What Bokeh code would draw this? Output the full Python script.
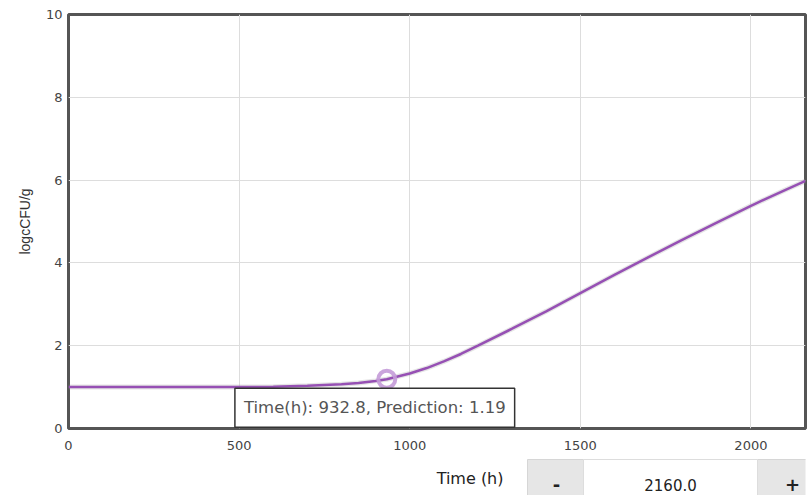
from bokeh.plotting import figure
from bokeh.layouts import column
from bokeh.models import Range1d, Label, FixedTicker, ColumnDataSource
from bokeh.core.properties import value
from bokeh.embed import file_html
from bokeh.resources import INLINE

# ---- data ----
time_h = [0, 100, 200, 300, 400, 500, 600, 650, 700, 750, 800, 850, 900, 932.8,
          1000, 1050, 1100, 1150, 1200, 1300, 1400, 1500, 1600, 1700, 1800,
          1900, 2000, 2100, 2160]
log_cfu = [1.0, 1.0, 1.0, 1.0, 1.0, 1.0, 1.01, 1.02, 1.03, 1.05, 1.07, 1.10, 1.15, 1.19,
           1.33, 1.46, 1.62, 1.80, 2.0, 2.41, 2.83, 3.27, 3.71, 4.14, 4.56,
           4.97, 5.38, 5.76, 5.98]
x_ticks = [0, 500, 1000, 1500, 2000]
y_ticks = [0, 2, 4, 6, 8, 10]
hover_time = 932.8
hover_pred = 1.19
x_axis_title = "Time (h)"
spinner_value = "2160.0"

FONT = "DejaVu Sans"

p = figure(width=807, height=455, output_backend="svg", toolbar_location=None,
           x_range=Range1d(0, 2160), y_range=Range1d(0, 10),
           min_border_left=68, min_border_right=2, min_border_top=14, min_border_bottom=27)
p.background_fill_color = "white"
p.border_fill_color = "white"
p.outline_line_color = "#555555"
p.outline_line_width = 3

p.xaxis.ticker = FixedTicker(ticks=x_ticks)
p.yaxis.ticker = FixedTicker(ticks=y_ticks)
for ax in (p.xaxis[0], p.yaxis[0]):
    ax.axis_line_color = None
    ax.major_tick_line_color = None
    ax.minor_tick_line_color = None
    ax.major_tick_out = 0
    ax.major_tick_in = 0
    ax.major_label_text_font = FONT
    ax.major_label_text_font_size = "13px"
    ax.major_label_text_color = "#444444"
p.xaxis.major_label_standoff = 12
p.yaxis.major_label_standoff = 6
p.yaxis.axis_label = "logcCFU/g"
p.yaxis.axis_label_text_font = "Liberation Sans"
p.yaxis.axis_label_text_font_style = "normal"
p.yaxis.axis_label_text_font_size = "14px"
p.yaxis.axis_label_text_color = "#333333"
p.yaxis.axis_label_standoff = 10

p.grid.grid_line_color = "#dddddd"
p.grid.grid_line_width = 1

src = ColumnDataSource(dict(t=time_h, y=log_cfu))
p.line("t", "y", source=src, line_color="#999999", line_alpha=0.25, line_width=5)
p.line("t", "y", source=src, line_color="#9650b4", line_width=2.5)

p.scatter([hover_time], [hover_pred], size=17, fill_color=None,
          line_color="#c49bd8", line_width=4, line_alpha=0.9)

tip = Label(x=hover_time, y=hover_pred, text=f"Time(h): {hover_time}, Prediction: {hover_pred}",
            anchor="top_center", x_offset=-12, y_offset=-9,
            text_font=FONT, text_font_size="16.5px", text_color="#555555",
            background_fill_color="white", border_line_color="#333333", border_line_width=1.5,
            padding=dict(left=9, right=9, top=10, bottom=10))
p.add_layout(tip)

# ---- spinner control strip under the chart (page-pixel coordinates) ----
c = figure(width=807, height=40, output_backend="svg", toolbar_location=None,
           x_range=Range1d(68, 805), y_range=Range1d(40, 0),
           x_axis_location=None, y_axis_location=None,
           min_border_left=68, min_border_right=2, min_border_top=0, min_border_bottom=0,
           outline_line_color=None)
c.grid.visible = False
c.background_fill_color = "white"
c.border_fill_color = "white"

c.quad(left=[527, 757], right=[583, 815], top=[4, 4], bottom=[50, 50],
       fill_color="#e6e6e6", line_color="#d6d6d6", line_width=1)
c.quad(left=[583], right=[757], top=[4], bottom=[50],
       fill_color="white", line_color="#dddddd", line_width=1)

c.text(x=[503], y=[23], text=[x_axis_title], text_align="right", text_baseline="middle",
       text_font=value(FONT), text_font_size="16px", text_color="#222222")
c.text(x=[556, 792], y=[29, 29], text=["-", "+"], text_align="center", text_baseline="middle",
       text_font=value(FONT), text_font_size="18px", text_font_style="bold", text_color="#222222")
c.text(x=[670], y=[29], text=[spinner_value], text_align="center", text_baseline="middle",
       text_font=value(FONT), text_font_size="15px", text_color="#222222")

layout = column(p, c, spacing=0)
open("out.html", "w").write(file_html(layout, INLINE))
